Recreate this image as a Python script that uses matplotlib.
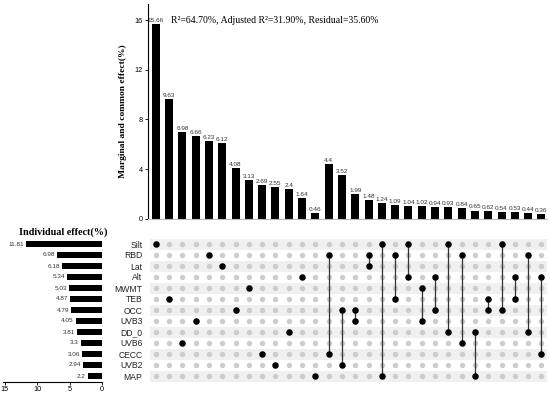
import matplotlib.pyplot as plt
import numpy as np

# variables (matrix rows, top to bottom) and their individual effects (%)
variables = ["Silt", "RBD", "Lat", "Alt", "MWMT", "TEB", "OCC",
             "UVB3", "DD_0", "UVB6", "CECC", "UVB2", "MAP"]
individual = [11.81, 6.98, 6.18, 5.34, 5.03, 4.87, 4.79,
              4.05, 3.81, 3.3, 3.06, 2.94, 2.2]

# marginal / common effects (%) and the variables involved in each
effects = [15.66, 9.63, 6.98, 6.66, 6.23, 6.12, 4.08, 3.13, 2.69, 2.55,
           2.4, 1.64, 0.46, 4.4, 3.52, 1.99, 1.48, 1.24, 1.09, 1.04,
           1.02, 0.94, 0.93, 0.84, 0.65, 0.62, 0.54, 0.53, 0.44, 0.36]
sets = [["Silt"], ["TEB"], ["UVB6"], ["UVB3"], ["RBD"], ["Lat"], ["OCC"],
        ["MWMT"], ["CECC"], ["UVB2"], ["DD_0"], ["Alt"], ["MAP"],
        ["RBD", "CECC"], ["OCC", "UVB2"], ["OCC", "UVB3"], ["RBD", "Lat"],
        ["Silt", "MAP"], ["RBD", "TEB"], ["Silt", "Alt"], ["MWMT", "UVB3"],
        ["Alt", "OCC"], ["Silt", "DD_0"], ["RBD", "UVB6"], ["DD_0", "MAP"],
        ["TEB", "OCC"], ["Silt", "OCC"], ["Alt", "TEB"], ["RBD", "DD_0"],
        ["Alt", "CECC"]]

title_txt = "R²=64.70%, Adjusted R²=31.90%, Residual=35.60%"

W, H = 550, 395
fig = plt.figure(figsize=(W / 100, H / 100), dpi=100)
plt.rcParams['font.family'] = ['Liberation Sans', 'DejaVu Sans']
serif = ['Liberation Serif', 'DejaVu Serif']


def box(l, t, r, b):
    return [l / W, 1 - b / H, (r - l) / W, (b - t) / H]


n = len(effects)
xs = np.arange(n)
xl = (-0.58, n - 0.58)
nr = len(variables)

# top bar chart
ax_top = fig.add_axes(box(148, 4, 547, 218.7))
ax_top.bar(xs, effects, width=0.6, color='black')
for x, v in zip(xs, effects):
    ax_top.text(x, v + 0.1, f"{v:g}", ha='center', va='bottom', fontsize=4.6,
                color='#333333')
ax_top.set_xlim(*xl)
ax_top.set_ylim(0, 17.3)
ax_top.set_yticks([0, 4, 8, 12, 16])
ax_top.set_xticks([])
ax_top.tick_params(axis='y', labelsize=5.3, length=2, width=0.6, pad=1.5)
for s in ['top', 'right']:
    ax_top.spines[s].set_visible(False)
ax_top.spines['left'].set_linewidth(0.8)
ax_top.spines['bottom'].set_color('#bbbbbb')
ax_top.spines['bottom'].set_linewidth(0.8)
ax_top.set_ylabel("Marginal and common effect(%)", family=serif, fontsize=6.8,
                  fontweight='bold', labelpad=6)
ax_top.text(0.058, 0.922, title_txt, transform=ax_top.transAxes, family=serif,
            fontsize=7.0, ha='left', va='center')

# matrix of dots
ax_m = fig.add_axes(box(148, 238.5, 547, 381.5))
for r in range(0, nr, 2):
    ax_m.axhspan(r - 0.5, r + 0.5, xmin=0.005, color='#f0f0f0', lw=0, zorder=0)
gx, gy = np.meshgrid(xs, np.arange(nr))
ax_m.scatter(gx.ravel(), gy.ravel(), s=15, color='#cccccc', lw=0, zorder=1)
for x, members in zip(xs, sets):
    rows = [variables.index(m) for m in members]
    if len(rows) > 1:
        ax_m.plot([x, x], [min(rows), max(rows)], color='#333333', lw=0.9,
                  zorder=2)
    ax_m.scatter([x] * len(rows), rows, s=22, color='black', lw=0, zorder=3)
ax_m.set_xlim(*xl)
ax_m.set_ylim(nr - 0.5, -0.5)
ax_m.set_xticks([])
ax_m.set_yticks(range(nr))
ax_m.set_yticklabels(variables, fontsize=6.2, color='#222222')
ax_m.tick_params(axis='y', length=0, pad=4)
for s in ax_m.spines.values():
    s.set_visible(False)

# left bar chart of individual effects
ax_l = fig.add_axes(box(3, 238.5, 102, 381.5))
ax_l.barh(np.arange(nr), individual, height=0.6, color='black')
for y, v in enumerate(individual):
    ax_l.text(v + 0.3, y, f"{v:g}", ha='right', va='center', fontsize=4.6,
              color='#333333')
ax_l.set_xlim(15.3, 0)
ax_l.set_ylim(nr - 0.5, -0.5)
ax_l.set_yticks([])
ax_l.set_xticks([15, 10, 5, 0])
ax_l.tick_params(axis='x', labelsize=5.3, length=2, width=0.6, pad=1.5)
for s in ['top', 'right', 'left']:
    ax_l.spines[s].set_visible(False)
ax_l.spines['bottom'].set_linewidth(0.8)
ax_l.set_title("Individual effect(%)", family=serif, fontsize=7.3,
               fontweight='bold', pad=3, x=0.61)

fig.savefig("out.png", dpi=100)
